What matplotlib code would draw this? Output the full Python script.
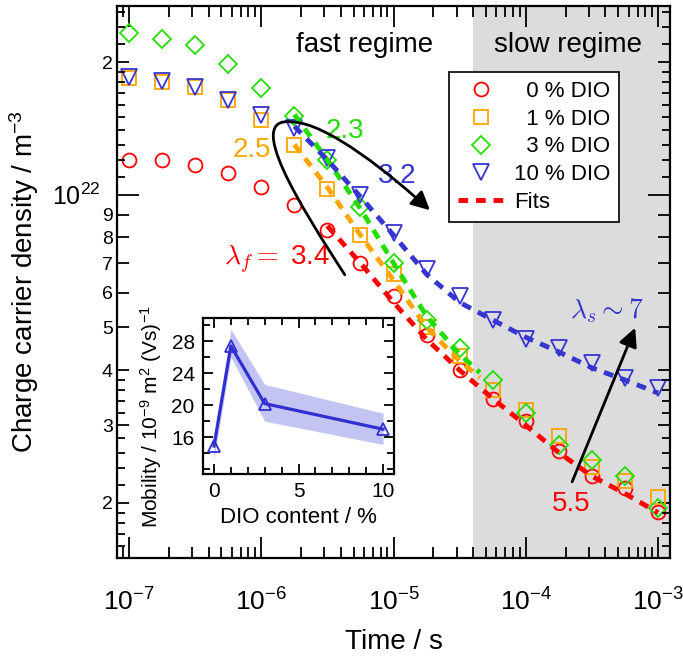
import numpy as np
import matplotlib
matplotlib.use('Agg')
from matplotlib import pyplot as plt
from matplotlib.path import Path
from matplotlib.patches import FancyArrowPatch
from matplotlib.ticker import FixedLocator, FixedFormatter, NullFormatter, NullLocator, LogLocator

plt.rcParams['font.family'] = ['Liberation Sans', 'DejaVu Sans']
plt.rcParams['mathtext.fontset'] = 'custom'
plt.rcParams['mathtext.rm'] = 'Liberation Sans'
plt.rcParams['mathtext.it'] = 'Liberation Sans:italic'
plt.rcParams['mathtext.bf'] = 'Liberation Sans:bold'

# time axis (s)
t = [1.0e-7, 1.78e-7, 3.16e-7, 5.62e-7, 1.0e-6, 1.78e-6, 3.16e-6, 5.62e-6, 1.0e-5,
     1.78e-5, 3.16e-5, 5.62e-5, 1.0e-4, 1.78e-4, 3.16e-4, 5.62e-4, 1.0e-3]

# charge carrier density (1e21 m^-3)
n_0 = [12.0, 12.0, 11.7, 11.2, 10.4, 9.5, 8.3, 7.0, 5.9, 4.8, 4.0, 3.45, 3.07, 2.62, 2.30, 2.16, 1.91]
n_1 = [18.4, 18.0, 17.6, 16.4, 14.8, 13.0, 10.3, 8.1, 6.6, 5.0, 4.3, 3.6, 3.25, 2.83, 2.41, 2.24, 2.06]
n_3 = [23.3, 22.5, 21.9, 19.8, 17.5, 15.1, 12.0, 9.4, 7.0, 5.2, 4.5, 3.8, 3.2, 2.7, 2.5, 2.3, 1.95]
n_10 = [18.5, 18.1, 17.6, 16.4, 15.2, 14.2, 12.1, 10.0, 8.2, 6.8, 5.9, 5.2, 4.7, 4.5, 4.15, 3.85, 3.64]

# fits
fit0_t = [3.16e-6, 5.62e-6, 1e-5, 1.78e-5, 3.16e-5, 5.62e-5, 1e-4, 1.78e-4, 3.16e-4, 5.62e-4, 1e-3]
fit0_n = [8.5, 7.0, 5.7, 4.7, 4.0, 3.45, 3.0, 2.6, 2.3, 2.1, 1.9]
fit1_t = [1.78e-6, 3.16e-6, 5.62e-6, 1e-5, 1.78e-5, 3.16e-5, 4.5e-5]
fit1_n = [13.0, 10.4, 8.1, 6.4, 5.0, 4.2, 3.85]
fit3_t = [1.78e-6, 3.16e-6, 5.62e-6, 1e-5, 1.78e-5, 3.16e-5, 4.5e-5]
fit3_n = [15.2, 12.0, 9.3, 7.0, 5.3, 4.35, 3.95]
fit10_t = [1.78e-6, 3.16e-6, 5.62e-6, 1e-5, 1.78e-5, 3.16e-5, 5.62e-5, 1e-4, 1.78e-4, 3.16e-4, 5.62e-4, 1e-3]
fit10_n = [14.3, 12.0, 9.9, 8.1, 6.6, 5.7, 5.2, 4.75, 4.4, 4.05, 3.8, 3.55]

# inset: mobility vs DIO content
dio = [0, 1, 3, 10]
mob = [14.9, 27.4, 20.2, 17.0]
mob_hi = [15.8, 29.5, 22.6, 19.0]
mob_lo = [13.2, 26.0, 18.0, 15.1]

# y tick values / labels
ymaj = [1e22]
ymaj_lab = ['$10^{22}$']
ymin = [2e22, 9e21, 8e21, 7e21, 6e21, 5e21, 4e21, 3e21, 2e21]
ymin_lab = ['2', '9', '8', '7', '6', '5', '4', '3', '2']
ysmall = [1.1e22, 1.2e22, 1.3e22, 1.4e22, 1.5e22, 1.6e22, 1.7e22, 1.8e22, 1.9e22,
          2.2e22, 2.4e22, 2.6e22, 1.6e21, 1.7e21, 1.8e21, 1.9e21,
          2.2e21, 2.4e21, 2.6e21, 2.8e21, 3.2e21, 3.4e21, 3.6e21, 3.8e21]

RED = '#ff0000'
ORANGE = '#ffa500'
GREEN = '#22dd00'
BLUE = '#3535d0'

fig = plt.figure(figsize=(6.83, 6.62), dpi=100)
ax = fig.add_axes([117/683, 1-558/662, 553/683, 552/662])
ax.set_xscale('log')
ax.set_yscale('log')
ax.set_xlim(10**-7.09, 10**-2.91)
ax.set_ylim(1.5e21, 2.68e22)

ax.axvspan(4e-5, 2e-3, color='#dcdcdc', zorder=0, lw=0)

sc = 1e21
mk = dict(ls='none', mfc='none', mew=1.3, zorder=3)
ax.plot(t, np.array(n_0)*sc, marker='o', ms=10, mec=RED, label='  0 % DIO', **mk)
ax.plot(t, np.array(n_1)*sc, marker='s', ms=10, mec=ORANGE, label='  1 % DIO', **mk)
ax.plot(t, np.array(n_3)*sc, marker='D', ms=9, mec=GREEN, label='  3 % DIO', **mk)
ax.plot(t, np.array(n_10)*sc, marker='v', ms=12, mec=BLUE, label='10 % DIO', **mk)

ds = (0, (2, 1.6))
ax.plot(fit3_t, np.array(fit3_n)*sc, color=GREEN, lw=3.5, ls=ds, zorder=4)
ax.plot(fit1_t, np.array(fit1_n)*sc, color=ORANGE, lw=3.5, ls=ds, zorder=4)
ax.plot(fit10_t, np.array(fit10_n)*sc, color=BLUE, lw=3.5, ls=ds, zorder=4)
ax.plot(fit0_t, np.array(fit0_n)*sc, color=RED, lw=3.5, ls=ds, zorder=5, label='Fits')

# ticks
ax.xaxis.set_major_locator(LogLocator(base=10, numticks=20))
ax.xaxis.set_minor_locator(LogLocator(base=10, subs=np.arange(2, 10), numticks=20))
ax.xaxis.set_minor_formatter(NullFormatter())
ax.tick_params(axis='x', which='major', direction='in', length=15, width=1.3,
               top=True, bottom=True, labelsize=19, pad=22)
ax.tick_params(axis='x', which='minor', direction='in', length=8, width=1.3,
               top=True, bottom=True)

ax2 = ax.twinx()
ax2.set_yscale('log')
ax2.set_ylim(ax.get_ylim())
ax2.yaxis.set_major_locator(FixedLocator(ysmall))
ax2.yaxis.set_major_formatter(NullFormatter())
ax2.yaxis.set_minor_locator(NullLocator())
ax2.tick_params(axis='y', which='major', direction='in', length=5.5, width=1.3,
                left=True, right=True, labelleft=False, labelright=False)
for s in ax2.spines.values():
    s.set_visible(False)

ax.yaxis.set_major_locator(FixedLocator(ymaj))
ax.yaxis.set_major_formatter(FixedFormatter(ymaj_lab))
ax.yaxis.set_minor_locator(FixedLocator(ymin))
ax.yaxis.set_minor_formatter(FixedFormatter(ymin_lab))
ax.tick_params(axis='y', which='major', direction='in', length=16, width=1.3,
               left=True, right=True, labelsize=18, pad=12)
ax.tick_params(axis='y', which='minor', direction='in', length=8.5, width=1.3,
               left=True, right=True, labelsize=14, pad=3)
for s in ax.spines.values():
    s.set_linewidth(1.6)

ax.set_xlabel('Time / s', fontsize=20)
ax.set_ylabel('Charge carrier density / m$^{-3}$', fontsize=20)
ax.xaxis.label.set_va('center')
ax.yaxis.label.set_va('center')
ax.xaxis.set_label_coords(0.5, -0.152)
ax.yaxis.set_label_coords(-0.168, 0.5)

ax.text(0.448, 0.929, 'fast regime', transform=ax.transAxes, fontsize=20,
        ha='center', va='center')
ax.text(0.816, 0.929, 'slow regime', transform=ax.transAxes, fontsize=20,
        ha='center', va='center')

leg = ax.legend(loc='upper right', bbox_to_anchor=(0.908, 0.880), borderaxespad=0,
                fontsize=16, frameon=True, fancybox=False, edgecolor='black',
                framealpha=1, handlelength=2.0, handletextpad=0.5,
                labelspacing=0.3, borderpad=0.4)
leg.get_frame().set_linewidth(1.2)
leg.set_zorder(10)

# annotations
ax.text(0.244, 0.739, '2.5', color=ORANGE, fontsize=20, transform=ax.transAxes,
        ha='center', va='center')
ax.text(0.412, 0.774, '2.3', color=GREEN, fontsize=20, transform=ax.transAxes,
        ha='center', va='center')
ax.text(0.506, 0.692, '3.2', color=BLUE, fontsize=20, transform=ax.transAxes,
        ha='center', va='center')
ax.text(0.289, 0.540, r'$\lambda_f=$ 3.4', color=RED, fontsize=20, transform=ax.transAxes,
        ha='center', va='center', math_fontfamily='cm')
ax.text(0.821, 0.098, '5.5', color=RED, fontsize=20, transform=ax.transAxes,
        ha='center', va='center')
ax.text(0.886, 0.449, r'$\lambda_s\sim 7$', color=BLUE, fontsize=20, transform=ax.transAxes,
        ha='center', va='center', math_fontfamily='cm')

verts = [(0.412, 0.513), (0.33, 0.64), (0.23, 0.80), (0.315, 0.79),
         (0.38, 0.79), (0.50, 0.69), (0.566, 0.630)]
codes = [Path.MOVETO] + [Path.CURVE4] * 6
arr = FancyArrowPatch(path=Path(verts, codes), arrowstyle='-|>,head_length=0.8,head_width=0.4',
                      mutation_scale=14, lw=2, color='black', transform=ax.transAxes, zorder=6)
ax.add_patch(arr)
ax.annotate('', xy=(0.937, 0.417), xytext=(0.823, 0.138), xycoords='axes fraction',
            arrowprops=dict(arrowstyle='-|>,head_length=0.8,head_width=0.4', mutation_scale=14,
                            lw=2, color='black', shrinkA=0, shrinkB=0), zorder=6)

# inset
axi = fig.add_axes([203/683, 1-474/662, 191/683, 156/662])
axi.fill_between(dio, mob_lo, mob_hi, color='#c4c4f2', lw=0)
axi.plot(dio, mob, color='#3030d0', lw=2.3, marker='^', ms=9, mfc='none', mew=1.3)
axi.set_xlim(-0.65, 10.65)
axi.set_ylim(11.4, 30.9)
axi.set_xticks([0, 5, 10])
axi.set_xticks(np.arange(0, 11), minor=True)
axi.set_yticks([16, 20, 24, 28])
axi.set_yticks(np.arange(12, 31, 2), minor=True)
axi.tick_params(which='major', direction='in', length=7, width=1.3, top=True, right=True,
                labelsize=15, pad=6)
axi.tick_params(which='minor', direction='in', length=5, width=1.3, top=True, right=True)
for s in axi.spines.values():
    s.set_linewidth(1.6)
axi.set_xlabel('DIO content / %', fontsize=16)
axi.set_ylabel('Mobility / 10$^{-9}$ m$^{2}$ (Vs)$^{-1}$', fontsize=15)
axi.xaxis.label.set_va('center')
axi.yaxis.label.set_va('center')
axi.xaxis.set_label_coords(0.5, -0.28)
axi.yaxis.set_label_coords(-0.27, 0.37)

fig.savefig('out.png', dpi=100)
